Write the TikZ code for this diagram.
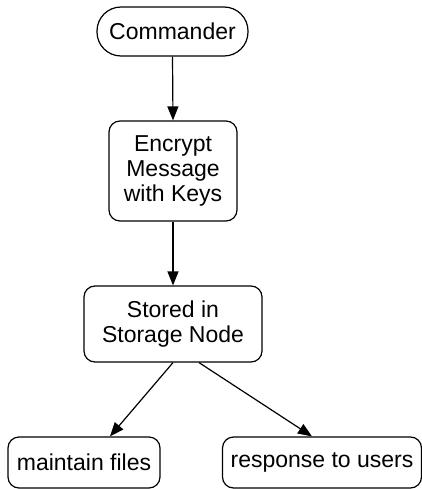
\documentclass[tikz,border=0pt]{standalone}
\usepackage{fontspec}
\setmainfont{Liberation Sans}
\usetikzlibrary{arrows.meta}
\begin{document}
\begin{tikzpicture}[x=1pt,y=-1pt,
  box/.style={draw, line width=1.2pt, rounded corners=11pt, align=center,
    inner sep=0pt, font=\fontsize{23}{25}\selectfont},
  flow/.style={-{Triangle[length=14pt,width=11pt]}, line width=1.2pt}]
\useasboundingbox (0,0) rectangle (422,489);
\node[box, rounded corners=24pt, minimum width=151pt, minimum height=49pt] (cmd) at (172.5,31.5) {Commander};
\node[box, minimum width=128pt, minimum height=100pt] (enc) at (173,171) {Encrypt\\Message\\with Keys};
\node[box, minimum width=178pt, minimum height=76pt] (sto) at (173,324) {Stored in\\Storage Node};
\node[box, minimum width=152pt, minimum height=51pt] (mf) at (84,462.5) {maintain files};
\node[box, minimum width=199pt, minimum height=51pt] (ru) at (322,462.5) {response to users};
\draw[flow] (cmd.south) -- (enc.north);
\draw[flow] (enc.south) -- (sto.north);
\draw[flow] (sto.south) -- ([xshift=26pt]mf.north);
\draw[flow] ([xshift=26pt]sto.south) -- ([xshift=-10pt]ru.north);
\end{tikzpicture}
\end{document}
